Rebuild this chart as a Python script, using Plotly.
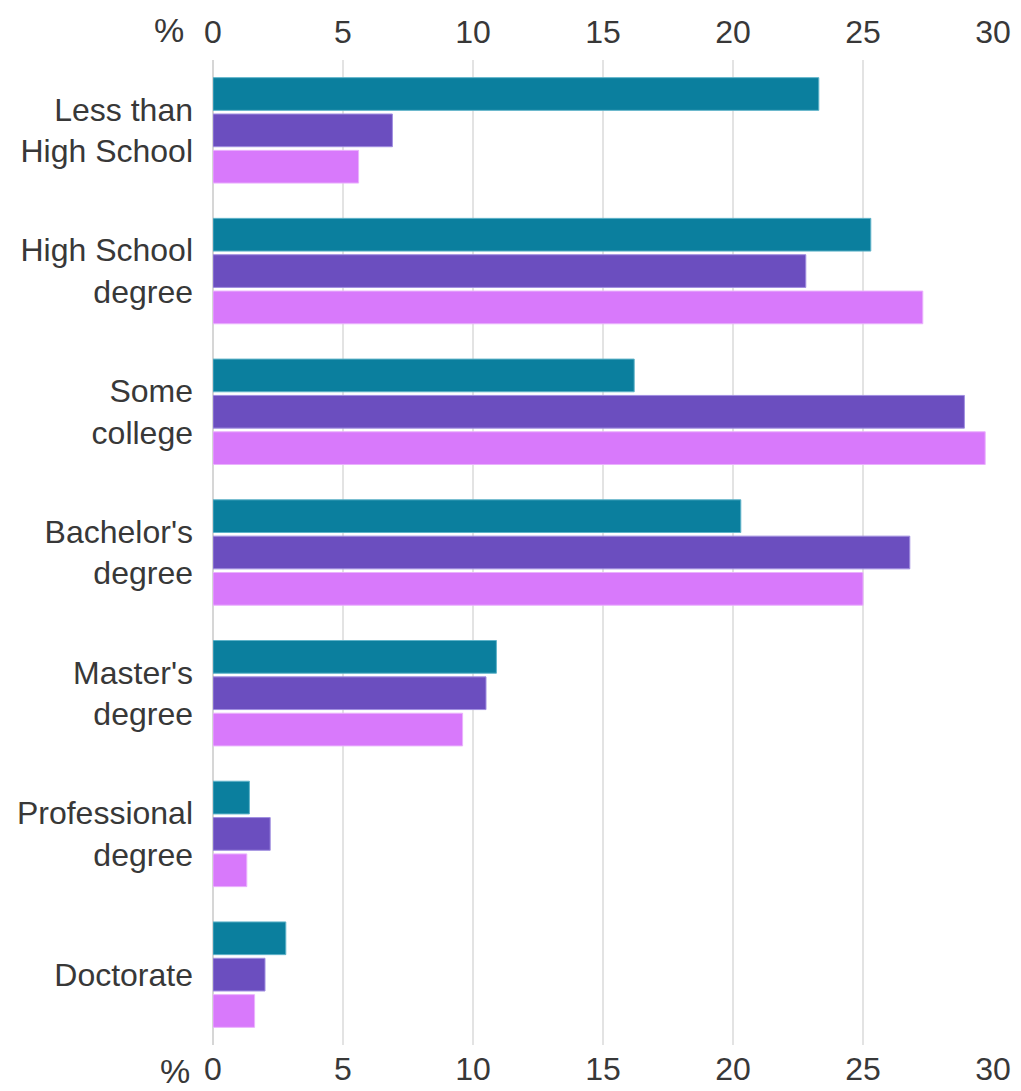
import plotly.graph_objects as go

categories = ["Less than<br>High School", "High School<br>degree", "Some<br>college",
              "Bachelor's<br>degree", "Master's<br>degree", "Professional<br>degree", "Doctorate"]
series_a = [23.3, 25.3, 16.2, 20.3, 10.9, 1.4, 2.8]
series_b = [6.9, 22.8, 28.9, 26.8, 10.5, 2.2, 2.0]
series_c = [5.6, 27.3, 29.7, 25.0, 9.6, 1.3, 1.6]
tick_vals = [0, 5, 10, 15, 20, 25, 30]
tick_text = ["0", "5", "10", "15", "20", "25", "30"]

colors = ["#0b7f9e", "#6b4ebf", "#d879fb"]
edge = ["#5fb3c9", "#a08ee0", "#eab2fd"]
names = ["Series A", "Series B", "Series C"]
FONT = "Helvetica Neue, Liberation Sans, Arial, sans-serif"
TXT = "#383838"

fig = go.Figure()
for vals, c, e, n in zip([series_a, series_b, series_c], colors, edge, names):
    fig.add_trace(go.Bar(y=categories, x=vals, orientation="h", name=n,
                         marker=dict(color=c, line=dict(color=e, width=1)),
                         showlegend=False))

# invisible trace to anchor the top axis
fig.add_trace(go.Scatter(x=[0, 30], y=[categories[0], categories[0]], xaxis="x2",
                         mode="lines", line=dict(width=0), opacity=0,
                         hoverinfo="skip", showlegend=False))

axis_common = dict(range=[0, 30], tickvals=tick_vals, ticktext=tick_text,
                   showgrid=True, gridcolor="#e3e3e3", gridwidth=1.5,
                   zeroline=True, zerolinecolor="#d6d6d6", zerolinewidth=1.5,
                   showline=False, ticks="", fixedrange=True, automargin=False,
                   tickfont=dict(family=FONT, size=32, color=TXT))

fig.update_layout(
    width=1021, height=1091,
    margin=dict(l=213, r=28, t=60, b=46),
    paper_bgcolor="white", plot_bgcolor="white",
    barmode="group", bargap=0.225, bargroupgap=0.1,
    xaxis=dict(side="bottom", ticklabelstandoff=2, **axis_common),
    xaxis2=dict(side="top", overlaying="x", matches="x", ticklabelstandoff=10, **axis_common),
    yaxis=dict(autorange="reversed", showgrid=False, ticks="", showline=False,
               automargin=False, fixedrange=True,
               tickfont=dict(family=FONT, size=32, color=TXT), ticklabelstandoff=19),
    annotations=[
        dict(text="%", xref="paper", yref="paper", x=0, y=1.0305, xanchor="right",
             yanchor="middle", xshift=-27, showarrow=False,
             font=dict(family=FONT, size=34, color=TXT)),
        dict(text="%", xref="paper", yref="paper", x=0, y=-0.026, xanchor="right",
             yanchor="middle", xshift=-21, showarrow=False,
             font=dict(family=FONT, size=34, color=TXT)),
    ],
)

fig.write_html("out.html", config={"displayModeBar": False},
               post_script="document.body.style.margin='0';document.body.style.padding='0';")
